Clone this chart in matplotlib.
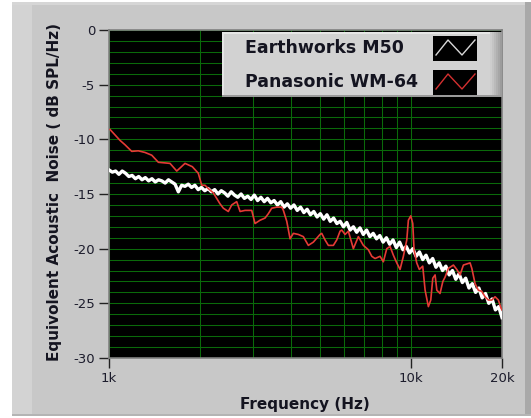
import matplotlib
matplotlib.use('Agg')
import matplotlib.pyplot as plt
import numpy as np
from matplotlib.patches import Rectangle
from matplotlib.lines import Line2D
from matplotlib.ticker import NullFormatter

# ---------------- data ----------------
series_names = ['Earthworks M50', 'Panasonic WM-64']
x_tick_values = [1000, 10000, 20000]
x_tick_labels = ['1k', '10k', '20k']
y_tick_values = [0, -5, -10, -15, -20, -25, -30]

# Earthworks M50 (white) - on a log-spaced frequency grid
earthworks_db = [
    -12.8, -13.0, -12.9, -13.2, -12.9, -13.1, -13.4, -13.3, -13.6, -13.4,
    -13.7, -13.5, -13.8, -13.6, -13.9, -13.7, -13.8, -14.0, -13.7, -13.9,
    -14.1, -14.8, -14.2, -14.3, -14.1, -14.4, -14.2, -14.6, -14.4, -14.7,
    -14.5, -14.8, -14.6, -15.0, -14.7, -14.9, -15.2, -14.8, -15.1, -15.3,
    -15.0, -15.4, -15.2, -15.5, -15.1, -15.6, -15.3, -15.7, -15.4, -15.8,
    -15.6, -16.0, -15.7, -16.2, -15.9, -16.3, -16.0, -16.5, -16.2, -16.7,
    -16.4, -16.9, -16.6, -17.1, -16.8, -17.3, -16.9, -17.5, -17.2, -17.7,
    -17.5, -18.0, -17.6, -18.3, -18.0, -18.5, -18.1, -18.7, -18.3, -18.9,
    -18.6, -19.1, -18.8, -19.4, -19.0, -19.6, -19.2, -19.9, -19.4, -20.1,
    -19.8, -20.4, -20.0, -20.7, -20.3, -21.0, -20.6, -21.3, -20.9, -21.7,
    -21.3, -22.0, -21.6, -22.4, -22.0, -22.8, -22.3, -23.1, -22.7, -23.6,
    -23.2, -24.0, -23.6, -24.5, -24.1, -25.0, -24.6, -25.6, -25.3, -26.3,
]
earthworks_freq = np.geomspace(1000, 20000, len(earthworks_db))

# Panasonic WM-64 (red): (frequency Hz, dB)
panasonic_points = [
    (1008, -9.1), (1088, -10.1), (1130, -10.5), (1189, -11.1), (1250, -11.05),
    (1316, -11.2), (1385, -11.45), (1457, -12.1), (1592, -12.2), (1676, -12.9),
    (1785, -12.2), (1887, -12.5), (1975, -13.1), (2028, -14.2), (2079, -14.2),
    (2132, -14.5), (2215, -14.9), (2331, -15.9), (2391, -16.3), (2483, -16.6),
    (2549, -16.0), (2647, -15.7), (2716, -16.6), (2821, -16.5), (2968, -16.5),
    (3044, -17.7), (3162, -17.4), (3285, -17.2), (3369, -16.8), (3457, -16.3),
    (3592, -16.2), (3732, -16.2), (3778, -16.5), (3877, -17.5), (3976, -19.1),
    (4077, -18.6), (4235, -18.7), (4399, -18.9), (4570, -19.7), (4748, -19.4),
    (4996, -18.7), (5061, -18.6), (5190, -19.2), (5323, -19.7), (5530, -19.7),
    (5675, -19.2), (5820, -18.4), (5896, -18.3), (6046, -18.7), (6200, -18.4),
    (6441, -20.0), (6691, -18.9), (6951, -19.7), (7222, -20.1), (7412, -20.7),
    (7600, -20.9), (7895, -20.7), (8096, -21.2), (8308, -20.0), (8521, -19.8),
    (8738, -20.6), (8967, -21.3), (9196, -21.9), (9430, -20.7), (9678, -19.2),
    (9797, -17.4), (9977, -17.0), (10130, -17.7), (10230, -20.1), (10440, -21.3),
    (10650, -21.9), (10930, -21.6), (11130, -23.8), (11410, -25.3), (11620, -24.7),
    (11800, -22.7), (12010, -22.4), (12170, -23.8), (12470, -24.1), (12740, -23.0),
    (12960, -22.6), (13290, -21.8), (13810, -21.5), (14170, -21.9), (14530, -22.4),
    (14900, -21.5), (15680, -21.3), (15890, -21.8), (16290, -23.2), (16700, -23.8),
    (17140, -23.9), (17580, -24.4), (18030, -24.7), (18500, -24.7), (18970, -24.4),
    (19460, -24.7), (19820, -25.4), (20000, -25.6),
]
panasonic_freq = [p[0] for p in panasonic_points]
panasonic_db = [p[1] for p in panasonic_points]

# ---------------- figure ----------------
W, H = 531, 418
fig = plt.figure(figsize=(W / 100, H / 100), dpi=100, facecolor='white')


def fx(x):
    return x / W


def fy(y):
    return 1 - y / H


def frect(x0, y0, x1, y1, color, z=0, **kw):
    r = Rectangle((fx(x0), fy(y1)), fx(x1) - fx(x0), fy(y0) - fy(y1),
                  transform=fig.transFigure, facecolor=color, edgecolor='none',
                  zorder=z, **kw)
    fig.add_artist(r)
    return r


# panel background
frect(12, 2, 531, 416, '#c8c8c8', z=-10)
frect(12, 2, 32, 416, '#d3d3d3', z=-9)
frect(12, 2, 531, 5, '#d6d6d6', z=-9)
frect(525, 2, 531, 416, '#a9a9a9', z=-9)
frect(12, 414, 531, 416, '#b4b4b4', z=-9)

ax = fig.add_axes([fx(109), fy(358), (502 - 109) / W, (358 - 30) / H])
ax.set_facecolor('black')
ax.set_xscale('log')
ax.set_xlim(1000, 20000)
ax.set_ylim(-30, 0)

ax.set_xticks(x_tick_values)
ax.set_xticklabels(x_tick_labels)
ax.set_xticks([2000, 3000, 4000, 5000, 6000, 7000, 8000, 9000], minor=True)
ax.xaxis.set_minor_formatter(NullFormatter())
ax.set_yticks(y_tick_values)
ax.set_yticklabels([str(v) for v in y_tick_values])
ax.set_yticks(np.arange(-29, 0, 1), minor=True)

ax.tick_params(which='major', direction='out', length=7, width=1.0,
               color='#222222', labelsize=9.5, labelcolor='#1c1c2c', pad=3)
ax.tick_params(which='minor', length=0)
ax.grid(True, which='both', color='#0a6a0a', linewidth=0.75)
ax.set_axisbelow(True)

for s in ax.spines.values():
    s.set_color('#808080')
    s.set_linewidth(1.2)

ax.plot(earthworks_freq, earthworks_db, color='white', lw=2.4, zorder=3)
ax.plot(panasonic_freq, panasonic_db, color='#e53a35', lw=1.2, zorder=4)

# ---------------- legend (LabVIEW style) ----------------
frect(222, 32, 502, 97, '#d2d2d2', z=5)
frect(222, 32, 502, 34, '#e6e6e6', z=5.1)
frect(222, 32, 224, 97, '#e6e6e6', z=5.1)
grad = ['#cdcdcd', '#c4c4c4', '#bababa', '#b0b0b0', '#a6a6a6', '#9c9c9c']
for i, c in enumerate(grad):
    frect(490 + 2 * i, 32, 492 + 2 * i, 97, c, z=5.1)
frect(222, 95, 502, 97, '#9a9a9a', z=5.2)

legend_colors = ['#d8d8d8', '#d43030']
for i, (name, col) in enumerate(zip(series_names, legend_colors)):
    yc = 48 + 34 * i
    fig.text(fx(245), fy(yc), name, fontsize=12.5, fontweight='bold',
             ha='left', va='center', color='#141420', zorder=6)
    frect(433, yc - 12, 477, yc + 13, 'black', z=6)
    fig.add_artist(Line2D([fx(436), fx(448), fx(462), fx(475)],
                          [fy(yc + 7), fy(yc - 8), fy(yc + 7), fy(yc - 8)],
                          transform=fig.transFigure, color=col, lw=1.0, zorder=7))

# axis labels
fig.text(fx(55), fy(192), 'Equivolent Acoustic  Noise ( dB SPL/Hz)', rotation=90,
         ha='center', va='center', fontsize=11, fontweight='bold', color='#141420')
fig.text(fx(305), fy(404), 'Frequency (Hz)', ha='center', va='center',
         fontsize=11, fontweight='bold', color='#141420')

fig.savefig('out.png', dpi=100, facecolor=fig.get_facecolor())
